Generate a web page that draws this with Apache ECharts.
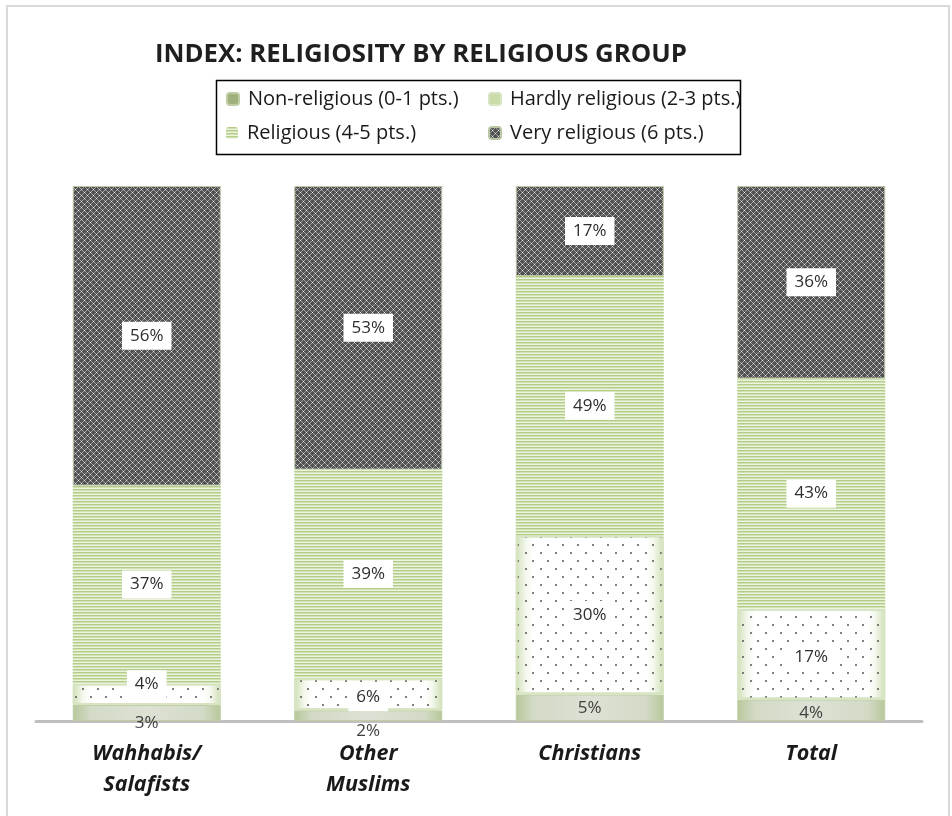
<!DOCTYPE html>
<html>
<head>
<meta charset="utf-8">
<script src="https://cdn.jsdelivr.net/npm/echarts@6/dist/echarts.min.js"></script>
<style>
html,body{margin:0;padding:0;background:#fff;}
#chart{width:952px;height:816px;}
</style>
</head>
<body>
<div id="chart"></div>
<script>
// ---- data ----
const categories = ['Wahhabis/\nSalafists', 'Other\nMuslims', 'Christians', 'Total'];
const seriesNames = ['Non-religious (0-1 pts.)', 'Hardly religious (2-3 pts.)', 'Religious (4-5 pts.)', 'Very religious (6 pts.)'];
const nonReligious = [3, 2, 5, 4];
const hardlyReligious = [4, 6, 30, 17];
const religious = [37, 39, 49, 43];
const veryReligious = [56, 53, 17, 36];
const titleText = 'INDEX: RELIGIOSITY BY RELIGIOUS GROUP';

// label nudges (style only)
const nonRelLabelOffsetY = [10, 16, 0, 3];
const hardlyLabelOffsetY = [-10, 3, 0, 3];
// legend slots (style only): [left, top] per series
const legendSlots = [[226, 89], [488, 89], [226, 123], [488, 123]];

// ---- patterns ----
function makeCanvas(w, h, draw) {
  const c = document.createElement('canvas');
  c.width = w; c.height = h;
  draw(c.getContext('2d'));
  return c;
}
const checkTile = makeCanvas(6, 6, ctx => {
  ctx.fillStyle = '#525252'; ctx.fillRect(0, 0, 6, 6);
  ctx.fillStyle = '#a2a2a2';
  for (let i = 0; i < 6; i++) { ctx.fillRect(i, i, 1, 1); ctx.fillRect(i, (6 - i) % 6, 1, 1); }
  ctx.fillStyle = '#ececec';
  ctx.fillRect(0, 0, 1, 1); ctx.fillRect(3, 3, 1, 1);
});
const stripeTile = makeCanvas(4, 3, ctx => {
  ctx.fillStyle = '#b3cd88'; ctx.fillRect(0, 0, 4, 1);
  ctx.fillStyle = '#d0e1b4'; ctx.fillRect(0, 1, 4, 1);
  ctx.fillStyle = '#ecf3e0'; ctx.fillRect(0, 2, 4, 1);
});

const total = categories.map((_, i) => nonReligious[i] + hardlyReligious[i] + religious[i] + veryReligious[i]);
const norm = arr => arr.map((v, i) => v / total[i] * 100);

const FONT = 'Open Sans';
const labelBox = {
  show: true, position: 'inside', color: '#2e2e2e', fontFamily: FONT, fontSize: 17,
  backgroundColor: '#fff', padding: [6, 8, 5, 8]
};

function build(arr, offsets) {
  const n = norm(arr);
  return n.map((v, i) => {
    const item = { value: v, raw: arr[i] };
    if (offsets) item.label = { offset: [0, offsets[i]] };
    return item;
  });
}
const fmt = p => p.data.raw + '%';

const legendIcons = [{ color: '#9fb17c' }, { color: '#c9dcaa' }, null, null];
const legends = seriesNames.map((name, i) => ({
  left: legendSlots[i][0], top: legendSlots[i][1],
  itemWidth: 12, itemHeight: 12, padding: 0,
  textStyle: { fontFamily: FONT, fontSize: 20, color: '#1a1a1a', padding: [0, 0, 0, 4] },
  data: [legendIcons[i] ? { name, itemStyle: Object.assign({ decal: 'none' }, legendIcons[i]) } : { name }]
}));

const chart = echarts.init(document.getElementById('chart'), null, { renderer: 'canvas' });
chart.setOption({
  animation: false,
  backgroundColor: '#fff',
  title: {
    text: titleText, left: 416, top: 37, textAlign: 'center',
    textStyle: { fontFamily: FONT, fontWeight: 'bold', fontSize: 25.8, color: '#1f1f1f' }
  },
  graphic: [
    { type: 'rect', shape: { x: 7, y: 6, width: 942, height: 820 },
      style: { fill: 'none', stroke: '#d9d9d9', lineWidth: 2 }, silent: true, z: -10 },
    { type: 'rect', shape: { x: 216.5, y: 80.5, width: 524, height: 74 },
      style: { fill: 'none', stroke: '#000', lineWidth: 1.5 }, silent: true }
  ],
  legend: legends,
  grid: { left: 36, right: 30, top: 186, bottom: 95 },
  xAxis: {
    type: 'category', data: categories,
    axisLine: { lineStyle: { color: '#bfbfbf', width: 3 } },
    axisTick: { show: false },
    axisLabel: { margin: 17, fontFamily: FONT, fontWeight: 'bold', fontStyle: 'italic', fontSize: 21.5, lineHeight: 31, color: '#1a1a1a', interval: 0 }
  },
  yAxis: { type: 'value', min: 0, max: 100, show: false },
  series: [
    {
      name: seriesNames[0], type: 'bar', stack: 'all', barWidth: 148,
      data: build(nonReligious, nonRelLabelOffsetY),
      itemStyle: {
        color: { type: 'linear', x: 0, y: 0, x2: 1, y2: 0, colorStops: [
          { offset: 0, color: '#b7c79a' }, { offset: 0.12, color: '#d3dac6' }, { offset: 0.5, color: '#dde1d4' },
          { offset: 0.88, color: '#d3dac6' }, { offset: 1, color: '#b7c79a' }] },
        borderColor: '#bfcda5', borderWidth: 1
      },
      label: { show: true, position: 'inside', color: '#404040', fontFamily: FONT, fontSize: 17, formatter: fmt }
    },
    {
      name: seriesNames[1], type: 'bar', stack: 'all', barWidth: 148,
      data: build(hardlyReligious, hardlyLabelOffsetY),
      itemStyle: {
        color: { type: 'linear', x: 0, y: 0, x2: 1, y2: 0, colorStops: [
          { offset: 0, color: '#cfdfb5' }, { offset: 0.07, color: '#f4f8ee' }, { offset: 0.12, color: '#ffffff' },
          { offset: 0.88, color: '#ffffff' }, { offset: 0.93, color: '#f4f8ee' }, { offset: 1, color: '#cfdfb5' }] },
        borderColor: '#d6e4c1', borderWidth: 2,
        decal: { symbol: 'circle', symbolSize: 1, color: '#555', dashArrayX: [[2, 13], [0, 7, 2, 6]], dashArrayY: [2, 5.5], rotation: 0 }
      },
      label: Object.assign({}, labelBox, { formatter: fmt })
    },
    {
      name: seriesNames[2], type: 'bar', stack: 'all', barWidth: 148,
      data: build(religious),
      itemStyle: { color: { image: stripeTile, repeat: 'repeat' } },
      label: Object.assign({}, labelBox, { formatter: fmt })
    },
    {
      name: seriesNames[3], type: 'bar', stack: 'all', barWidth: 148,
      data: build(veryReligious),
      itemStyle: { color: { image: checkTile, repeat: 'repeat' }, borderColor: '#b9c6a3', borderWidth: 1 },
      label: Object.assign({}, labelBox, { formatter: fmt })
    }
  ]
});
</script>
</body>
</html>
